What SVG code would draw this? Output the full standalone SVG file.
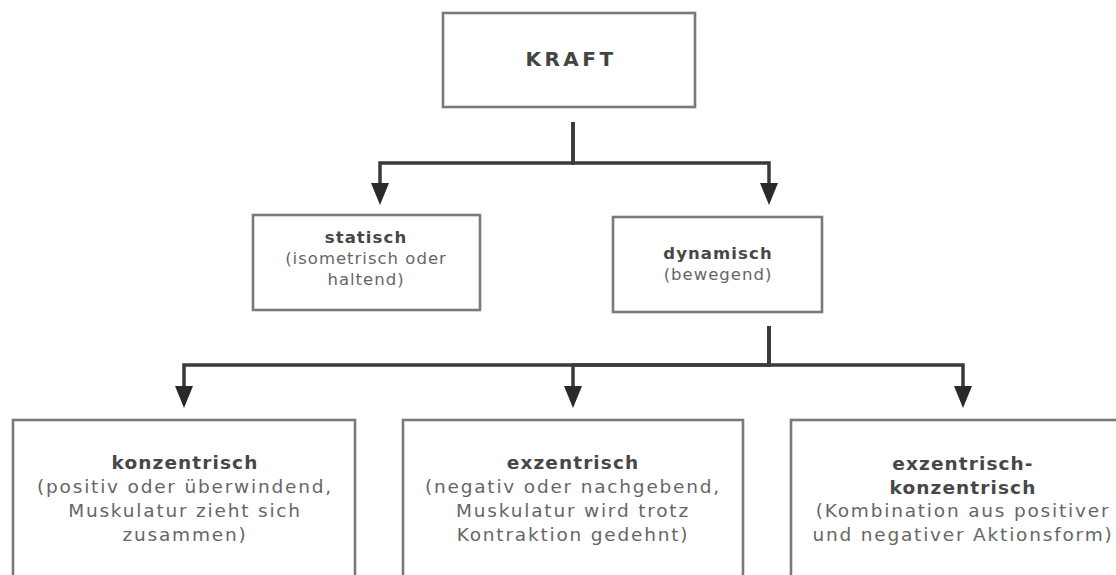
<svg xmlns="http://www.w3.org/2000/svg" width="1116" height="575" viewBox="0 0 1116 575">
<style>
.box{fill:#fff;stroke:#7a7a7a;stroke-width:2.6}
.con{fill:none;stroke:#3a3a3a;stroke-width:3.5;stroke-linejoin:miter}
.t{font-family:"DejaVu Sans","Open Sans",sans-serif;text-anchor:middle;fill:#666}
.m{font-size:16.5px;letter-spacing:1px}
.b{font-size:18.5px;letter-spacing:1.8px}
.h{font-weight:bold;fill:#474747;letter-spacing:1.1px}
.k{font-size:20px;font-weight:bold;fill:#444;letter-spacing:3.5px}
</style>
<defs>
<marker id="ah" viewBox="0 0 22 18" refX="12" refY="9" markerWidth="22" markerHeight="18" markerUnits="userSpaceOnUse" orient="auto">
<path d="M0,0 L22,9 L0,18 z" fill="#2a2a2a"/>
</marker>
</defs>
<rect width="1116" height="575" fill="#fff"/>
<g id="connectors">
<path class="con" d="M573,122 V163 H380 V195" marker-end="url(#ah)"/>
<path class="con" d="M573,122 V163 H769 V195" marker-end="url(#ah)"/>
<path class="con" d="M769,326 V365 H184 V398" marker-end="url(#ah)"/>
<path class="con" d="M769,326 V365 H573 V398" marker-end="url(#ah)"/>
<path class="con" d="M769,326 V365 H963 V398" marker-end="url(#ah)"/>
</g>
<g id="kraft">
<rect class="box" x="443" y="13" width="252" height="94"/>
<text class="t k" x="571" y="66">KRAFT</text>
</g>
<g id="statisch">
<rect class="box" x="253" y="215" width="227" height="95"/>
<text class="t m h" x="366" y="243">statisch</text>
<text class="t m" x="366" y="264">(isometrisch oder</text>
<text class="t m" x="366" y="285">haltend)</text>
</g>
<g id="dynamisch">
<rect class="box" x="613" y="217" width="209" height="95"/>
<text class="t m h" x="718" y="259">dynamisch</text>
<text class="t m" x="718" y="280">(bewegend)</text>
</g>
<g id="konzentrisch">
<rect class="box" x="13" y="420" width="342" height="175"/>
<text class="t b h" x="185" y="469">konzentrisch</text>
<text class="t b" x="185" y="493">(positiv oder überwindend,</text>
<text class="t b" x="185" y="517">Muskulatur zieht sich</text>
<text class="t b" x="185" y="541">zusammen)</text>
</g>
<g id="exzentrisch">
<rect class="box" x="403" y="420" width="340" height="175"/>
<text class="t b h" x="573" y="469">exzentrisch</text>
<text class="t b" x="573" y="493">(negativ oder nachgebend,</text>
<text class="t b" x="573" y="517">Muskulatur wird trotz</text>
<text class="t b" x="573" y="541">Kontraktion gedehnt)</text>
</g>
<g id="exzentrisch-konzentrisch">
<rect class="box" x="791" y="420" width="345" height="175"/>
<text class="t b h" x="963" y="470">exzentrisch-</text>
<text class="t b h" x="963" y="494">konzentrisch</text>
<text class="t b" x="963" y="517">(Kombination aus positiver</text>
<text class="t b" x="963" y="541">und negativer Aktionsform)</text>
</g>
</svg>
